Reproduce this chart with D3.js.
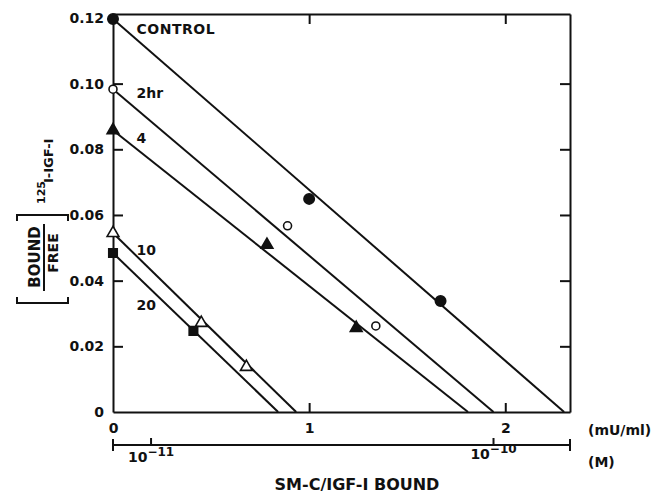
<!DOCTYPE html>
<html>
<head>
<meta charset="utf-8">
<script src="https://cdn.jsdelivr.net/npm/d3@7"></script>
<style>
  body { margin: 0; background: #fff; }
  svg text { font-family: "DejaVu Sans", sans-serif; font-weight: bold; fill: #111; }
</style>
</head>
<body>
<div id="chart"></div>
<script>
// values: x = SM-C/IGF-I bound (mU/ml), y = bound/free
var seriesNames = ["CONTROL", "2hr", "4", "10", "20"];
var controlX = [0, 1.0, 1.67];
var controlY = [0.1197, 0.0649, 0.0338];
var hr2X = [0, 0.89, 1.34];
var hr2Y = [0.0983, 0.0567, 0.0262];
var hr4X = [0, 0.785, 1.24];
var hr4Y = [0.0858, 0.0509, 0.0256];
var hr10X = [0, 0.45, 0.68];
var hr10Y = [0.0545, 0.0271, 0.0137];
var hr20X = [0, 0.41];
var hr20Y = [0.0484, 0.0247];

// fitted lines: intercept on y axis and on x axis
var lineYIntercept = [0.1197, 0.0983, 0.0858, 0.0545, 0.0484];
var lineXIntercept = [2.30, 1.94, 1.81, 0.934, 0.842];

// where the series labels sit (data units)
var labelX = [0.12, 0.12, 0.12, 0.12, 0.12];
var labelY = [0.1151, 0.0955, 0.0818, 0.0479, 0.0311];

var yTicks = [0, 0.02, 0.04, 0.06, 0.08, 0.10, 0.12];
var xTicks = [0, 1, 2];
var molarTicks = [1e-11, 1e-10];
var molarLabels = ["11", "10"];
var muPerMolar = 1.94e10; // 1e-10 M sits at about 1.94 mU/ml

// set the dimensions and margins of the graph
var margin = { top: 14, right: 87, bottom: 81, left: 113 },
    width = 657 - margin.left - margin.right,
    height = 493 - margin.top - margin.bottom;

var svgRoot = d3.select("#chart")
    .append("svg")
    .attr("width", width + margin.left + margin.right)
    .attr("height", height + margin.top + margin.bottom);

var svg = svgRoot.append("g")
    .attr("transform", "translate(" + margin.left + "," + margin.top + ")");

var x = d3.scaleLinear().domain([0, 2.33]).range([0, width]);
var y = d3.scaleLinear().domain([0, 0.1212]).range([height, 0]);

function styleAxis(g) {
    g.selectAll("path, line").attr("stroke", "#111").attr("stroke-width", 2);
    g.selectAll("text").attr("font-size", 14).attr("font-family", null);
}

// left axis with labels, ticks pointing inward
var yAxis = svg.append("g")
    .call(d3.axisLeft(y).tickValues(yTicks).tickSize(-10).tickSizeOuter(0).tickPadding(9)
        .tickFormat(function (d) { return d === 0 ? "0" : d3.format(".2f")(d); }))
    .call(styleAxis);
yAxis.selectAll(".tick line").filter(function (d) { return d === 0 || d === 0.12; }).remove();

// right frame
svg.append("g")
    .attr("transform", "translate(" + width + ",0)")
    .call(d3.axisRight(y).tickValues(yTicks.slice(1, 6)).tickSize(-10).tickSizeOuter(0).tickFormat(""))
    .call(styleAxis);

// top frame
svg.append("g")
    .call(d3.axisTop(x).tickValues([1, 2]).tickSize(-10).tickSizeOuter(0).tickFormat(""))
    .call(styleAxis);

// bottom axis (mU/ml)
var xAxis = svg.append("g")
    .attr("transform", "translate(0," + height + ")")
    .call(d3.axisBottom(x).tickValues(xTicks).tickSize(-9).tickSizeOuter(0).tickPadding(11)
        .tickFormat(d3.format("d")))
    .call(styleAxis);
xAxis.selectAll(".tick line").filter(function (d) { return d === 0; }).remove();

svg.append("text")
    .attr("x", width + 18)
    .attr("y", height + 23)
    .attr("font-size", 14)
    .text("(mU/ml)");

// second scale in molar units
var molarY = height + 33;
var mx = function (m) { return x(m * muPerMolar); };
var mAxis = svg.append("g").attr("transform", "translate(0," + molarY + ")");
mAxis.append("line").attr("x1", 0).attr("x2", width);
mAxis.selectAll(".end").data([0, width]).enter().append("line")
    .attr("x1", function (d) { return d; }).attr("x2", function (d) { return d; })
    .attr("y1", -6).attr("y2", 6);
mAxis.selectAll(".mtick").data(molarTicks).enter().append("line")
    .attr("x1", function (d) { return mx(d); }).attr("x2", function (d) { return mx(d); })
    .attr("y1", -7).attr("y2", 0);
mAxis.selectAll("line").attr("stroke", "#111").attr("stroke-width", 2);

var mLab = mAxis.selectAll(".mlab").data(molarTicks).enter().append("text")
    .attr("x", function (d) { return mx(d); })
    .attr("y", function (d, i) { return i === 0 ? 17 : 14; })
    .attr("text-anchor", "middle")
    .attr("font-size", 14);
mLab.append("tspan").text("10");
mLab.append("tspan").attr("dy", -6).attr("font-size", 12)
    .text(function (d, i) { return "\u2212" + molarLabels[i]; });

svg.append("text")
    .attr("x", width + 18)
    .attr("y", molarY + 22)
    .attr("font-size", 14)
    .text("(M)");

// axis title
svg.append("text")
    .attr("x", 357 - margin.left)
    .attr("y", height + 78)
    .attr("text-anchor", "middle")
    .attr("font-size", 16)
    .text("SM-C/IGF-I BOUND");

// y axis title: [BOUND/FREE] 125I-IGF-I, rotated
var yt = svgRoot.append("g");
yt.append("text")
    .attr("transform", "translate(40,257) rotate(-90)")
    .attr("text-anchor", "middle")
    .attr("font-size", 15)
    .text("BOUND");
yt.append("line")
    .attr("x1", 44).attr("x2", 44).attr("y1", 224).attr("y2", 291);
yt.append("text")
    .attr("transform", "translate(58,253) rotate(-90)")
    .attr("text-anchor", "middle")
    .attr("font-size", 14)
    .text("FREE");
yt.append("path")
    .attr("d", "M17,221 V215 H68 V221 M17,297 V303 H68 V297")
    .attr("fill", "none");
yt.selectAll("line, path").attr("stroke", "#111").attr("stroke-width", 2);
yt.append("text")
    .attr("transform", "translate(45,204) rotate(-90)")
    .attr("font-size", 11)
    .text("125");
yt.append("text")
    .attr("transform", "translate(53,183) rotate(-90)")
    .attr("font-size", 13)
    .text("I-IGF-I");

// fitted lines
var fits = seriesNames.map(function (name, i) {
    return [[0, lineYIntercept[i]], [lineXIntercept[i], 0]];
});
svg.selectAll(".fit")
    .data(fits)
    .enter()
    .append("path")
    .attr("class", "fit")
    .attr("d", d3.line().x(function (d) { return x(d[0]); }).y(function (d) { return y(d[1]); }))
    .attr("fill", "none")
    .attr("stroke", "#111")
    .attr("stroke-width", 2);

// points
var pointSets = [
    { xs: controlX, ys: controlY, type: d3.symbolCircle, size: 85, filled: true },
    { xs: hr2X, ys: hr2Y, type: d3.symbolCircle, size: 50, filled: false },
    { xs: hr4X, ys: hr4Y, type: d3.symbolTriangle, size: 60, filled: true },
    { xs: hr10X, ys: hr10Y, type: d3.symbolTriangle, size: 60, filled: false },
    { xs: hr20X, ys: hr20Y, type: d3.symbolSquare, size: 72, filled: true }
];
pointSets.forEach(function (s) {
    var pts = s.xs.map(function (v, j) { return [v, s.ys[j]]; });
    svg.append("g").selectAll("path")
        .data(pts)
        .enter()
        .append("path")
        .attr("transform", function (d) { return "translate(" + x(d[0]) + "," + y(d[1]) + ")"; })
        .attr("d", d3.symbol().type(s.type).size(s.size))
        .attr("fill", s.filled ? "#111" : "#fff")
        .attr("stroke", "#111")
        .attr("stroke-width", 1.6);
});

// series labels
svg.selectAll(".slab")
    .data(seriesNames)
    .enter()
    .append("text")
    .attr("x", function (d, i) { return x(labelX[i]); })
    .attr("y", function (d, i) { return y(labelY[i]); })
    .attr("font-size", 14)
    .attr("letter-spacing", function (d, i) { return i === 0 ? 0.5 : 0; })
    .text(function (d) { return d; });
</script>
</body>
</html>
